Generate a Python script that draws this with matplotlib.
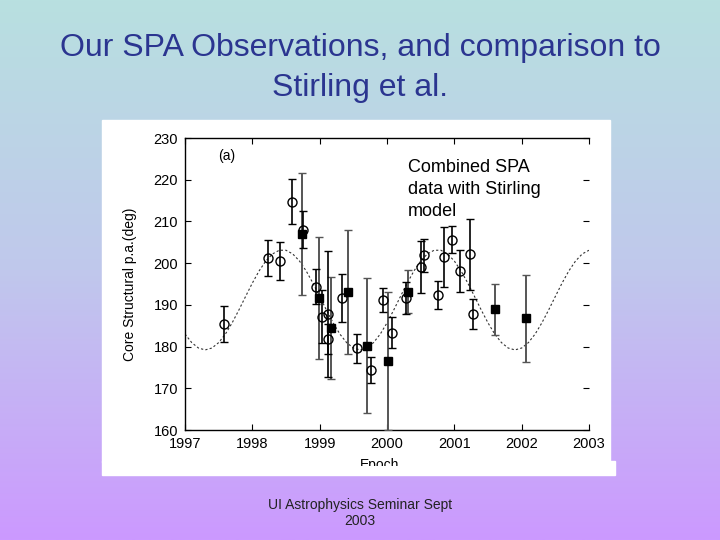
import numpy as np
import matplotlib
matplotlib.use("Agg")
import matplotlib.pyplot as plt
from matplotlib.colors import LinearSegmentedColormap
from matplotlib.patches import Rectangle

plt.rcParams["font.family"] = ["Liberation Sans", "DejaVu Sans"]

# open circles: epoch, p.a. (deg), error
circ_epoch = [1997.58, 1998.23, 1998.41, 1998.59, 1998.75, 1998.95, 1999.03, 1999.12,
              1999.12, 1999.33, 1999.55, 1999.76, 1999.94, 2000.08, 2000.28, 2000.50,
              2000.55, 2000.75, 2000.85, 2000.96, 2001.08, 2001.23, 2001.28]
circ_pa = [185.4, 201.2, 200.5, 214.7, 208.0, 194.4, 187.2, 187.8,
           181.8, 191.6, 179.6, 174.4, 191.2, 183.3, 191.6, 199.1,
           201.9, 192.4, 201.5, 205.6, 198.2, 202.1, 187.8]
circ_err = [4.4, 4.3, 4.5, 5.4, 4.4, 4.2, 6.3, 15.0,
            3.5, 5.7, 3.5, 3.1, 2.8, 3.7, 3.8, 6.2,
            4.0, 3.4, 7.1, 3.2, 5.0, 8.5, 3.5]

# filled squares
sq_epoch = [1998.74, 1998.99, 1999.17, 1999.42, 1999.70, 2000.02, 2000.31, 2001.61, 2002.07]
sq_pa = [207.0, 191.6, 184.4, 193.1, 180.2, 176.6, 193.2, 188.9, 186.8]
sq_err = [14.7, 14.6, 12.2, 14.9, 16.2, 16.6, 5.2, 6.1, 10.4]

# Stirling et al. model curve, every 0.1 yr
model_epoch = [1997.0 + 0.1 * i for i in range(61)]
model_pa = [183.0, 180.95, 179.65, 179.2, 179.65, 180.95, 183.0, 185.68, 188.76, 192.02,
            195.22, 198.12, 200.51, 202.21, 203.09, 203.09, 202.21, 200.51, 198.12, 195.22,
            192.02, 188.76, 185.68, 183.0, 180.95, 179.65, 179.2, 179.65, 180.95, 183.0,
            185.68, 188.76, 192.02, 195.22, 198.12, 200.51, 202.21, 203.09, 203.09, 202.21,
            200.51, 198.12, 195.22, 192.02, 188.76, 185.68, 183.0, 180.95, 179.65, 179.2,
            179.65, 180.95, 183.0, 185.68, 188.76, 192.02, 195.22, 198.12, 200.51, 202.21,
            203.09]

years = [1997, 1998, 1999, 2000, 2001, 2002, 2003]
pa_ticks = [160, 170, 180, 190, 200, 210, 220, 230]

fig = plt.figure(figsize=(7.2, 5.4), dpi=100)

# slide background gradient
bg = fig.add_axes([0, 0, 1, 1], zorder=-10)
cmap = LinearSegmentedColormap.from_list("slide", ["#b8e0e0", "#c0c8ec", "#cc99ff"])
bg.imshow(np.linspace(0, 1, 256).reshape(-1, 1), aspect="auto", cmap=cmap,
          extent=[0, 1, 0, 1], origin="upper")
bg.axis("off")

W, H = 720.0, 540.0
# white picture pasted on the slide
fig.patches.append(Rectangle((102 / W, 1 - 462 / H), 508 / W, 342 / H,
                             transform=fig.transFigure, color="white", zorder=-5))
fig.patches.append(Rectangle((102 / W, 1 - 475 / H), 513 / W, 14 / H,
                             transform=fig.transFigure, color="white", zorder=-5))

fig.text(0.5, 1 - 48 / H, "Our SPA Observations, and comparison to",
         ha="center", va="center", fontsize=23, color="#2b3590")
fig.text(0.5, 1 - 88 / H, "Stirling et al.",
         ha="center", va="center", fontsize=23, color="#2b3590")

ax = fig.add_axes([185 / W, 1 - 430 / H, 404 / W, 292 / H])
ax.set_facecolor("none")

ax.plot(model_epoch, model_pa, color="#333333", lw=0.8, ls=(0, (2, 2)), zorder=1)

ax.errorbar(sq_epoch, sq_pa, yerr=sq_err, fmt="s", ms=5.5, mfc="black", mec="black",
            ecolor="#555555", elinewidth=1.4, capsize=3, capthick=1.0, zorder=3)
ax.errorbar(circ_epoch, circ_pa, yerr=circ_err, fmt="o", ms=6.5, mfc="none", mec="black",
            mew=1.0, ecolor="black", elinewidth=1.2, capsize=3, capthick=1.0, zorder=4)

ax.text(1997.62, 225.7, "(a)", fontsize=10, ha="center", va="center")

ax.set_xlim(1997, 2003)
ax.set_ylim(160, 230)
ax.set_xticks(years)
ax.set_yticks(pa_ticks)
ax.tick_params(direction="in", top=True, right=True, length=4, labelsize=10.5, pad=5)
ax.spines["right"].set_visible(False)
for s in ["left", "bottom", "top"]:
    ax.spines[s].set_linewidth(1.0)
ax.set_ylabel("Core Structural p.a.(deg)", fontsize=10, labelpad=12)

# axis label cut off in the pasted picture
clip = Rectangle((102 / W, 1 - 466 / H), 513 / W, 20 / H,
                 transform=fig.transFigure, fill=False, visible=False)
fig.patches.append(clip)
ep = fig.text(380 / W, 1 - 465 / H, "Epoch", ha="center", va="center", fontsize=10)
ep.set_clip_on(True)
ep.set_clip_path(clip)

fig.text(408 / W, 1 - 168 / H, "Combined SPA", fontsize=13, va="center")
fig.text(408 / W, 1 - 190 / H, "data with Stirling", fontsize=13, va="center")
fig.text(408 / W, 1 - 212 / H, "model", fontsize=13, va="center")

fig.text(0.5, 1 - 505 / H, "UI Astrophysics Seminar Sept", ha="center", va="center",
         fontsize=10, color="#222222")
fig.text(0.5, 1 - 521 / H, "2003", ha="center", va="center",
         fontsize=10, color="#222222")

fig.savefig("out.png", dpi=100)
